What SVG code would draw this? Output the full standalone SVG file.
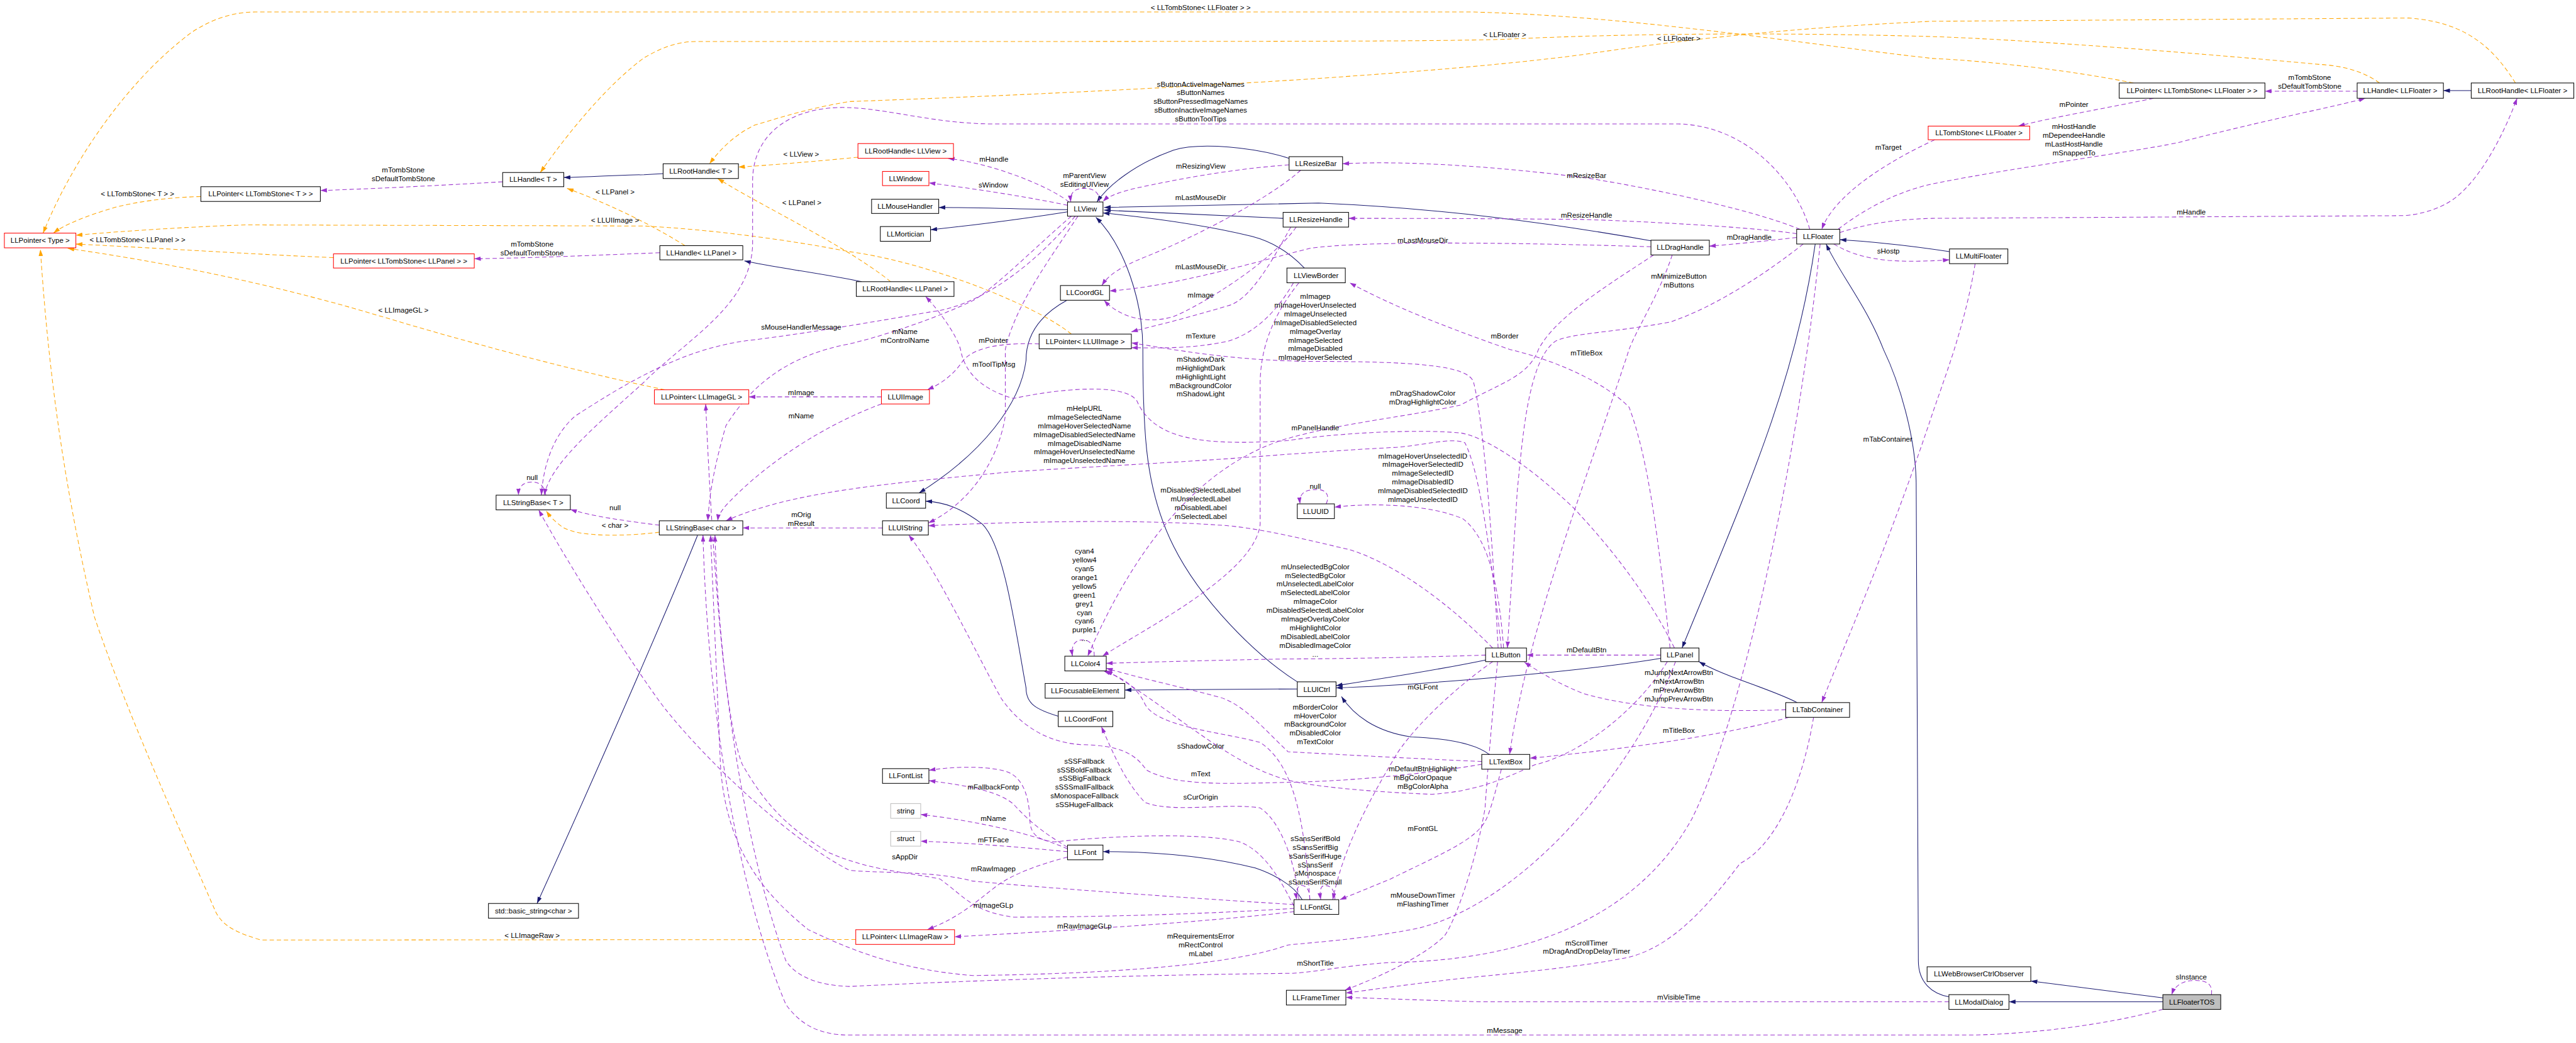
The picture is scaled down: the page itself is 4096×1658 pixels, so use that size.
<svg xmlns="http://www.w3.org/2000/svg" width="4096" height="1658" viewBox="0 0 4096 1658">
<style>
text{font-family:"Liberation Sans",Arial,sans-serif;font-size:13.3px;text-anchor:middle;fill:#000}
.node rect{fill:#fff;stroke:#000;stroke-width:1.2}
.node.r rect{stroke:#ff0000}
.node.g rect{stroke:#bfbfbf}
.node.f rect{fill:#bfbfbf}
.inh{fill:none;stroke:#191970;stroke-width:1.2;marker-end:url(#aN)}
.agg{fill:none;stroke:#9a32cd;stroke-width:1.2;stroke-dasharray:8,5;marker-end:url(#aP)}
.tpl{fill:none;stroke:#ffa500;stroke-width:1.2;stroke-dasharray:8,5;marker-end:url(#aO)}
</style>
<defs>
<marker id="aN" viewBox="0 0 12 8" refX="12" refY="4" markerWidth="12" markerHeight="8" markerUnits="userSpaceOnUse" orient="auto"><path d="M0,0L12,4L0,8z" fill="#191970"/></marker>
<marker id="aP" viewBox="0 0 12 8" refX="12" refY="4" markerWidth="12" markerHeight="8" markerUnits="userSpaceOnUse" orient="auto"><path d="M0,0L12,4L0,8z" fill="#9a32cd"/></marker>
<marker id="aO" viewBox="0 0 12 8" refX="12" refY="4" markerWidth="12" markerHeight="8" markerUnits="userSpaceOnUse" orient="auto"><path d="M0,0L12,4L0,8z" fill="#ffa500"/></marker>
</defs>
<rect width="4096" height="1658" fill="#fff"/>
<g transform="scale(0.8678)">
<g id="edges">
<!-- inheritance -->
<path class="inh" d="M1215,318 L1180,320 C1100,322 1060,325 1033,325"/>
<path class="inh" d="M1579,516 C1500,500 1420,490 1364,478"/>
<path class="inh" d="M1956,384 C1850,383 1800,380 1720,380"/>
<path class="inh" d="M1956,388 C1850,405 1760,415 1705,421"/>
<path class="inh" d="M2362,290 C2300,270 2200,260 2150,275 C2080,300 2030,340 2010,370"/>
<path class="inh" d="M3025,441 C2850,410 2650,382 2416,372 L2023,380"/>
<path class="inh" d="M2351,400 C2200,393 2100,388 2023,385"/>
<path class="inh" d="M2390,491 C2370,470 2340,445 2294,433 C2200,410 2100,398 2021,390"/>
<path class="inh" d="M2377,1249 C2300,1200 2200,1100 2150,1000 C2100,900 2094,800 2094,640 C2094,550 2060,450 2008,398"/>
<path class="inh" d="M1955,550 C1900,580 1880,620 1880,660 C1870,740 1800,830 1684,903"/>
<path class="inh" d="M1939,1312 C1900,1300 1880,1290 1880,1260 C1860,1150 1840,1000 1800,960 C1760,930 1730,920 1696,918"/>
<path class="inh" d="M1278,981 C1230,1100 1100,1400 984,1655"/>
<path class="inh" d="M2377,1262 L2061,1264"/>
<path class="inh" d="M2722,1209 C2620,1230 2520,1245 2448,1256"/>
<path class="inh" d="M3043,1206 C2900,1230 2600,1255 2448,1260"/>
<path class="inh" d="M2729,1382 C2700,1360 2640,1352 2586,1350 C2520,1340 2480,1310 2458,1276"/>
<path class="inh" d="M3326,447 C3290,700 3200,900 3082,1187"/>
<path class="inh" d="M3293,1287 C3240,1260 3160,1240 3113,1212"/>
<path class="inh" d="M3572,461 C3500,450 3420,442 3371,439"/>
<path class="inh" d="M3571,1826 C3540,1820 3515,1800 3515,1760 L3511,885 C3510,800 3480,700 3451,640 C3420,560 3370,500 3346,447"/>
<path class="inh" d="M3963,1835 L3681,1835"/>
<path class="inh" d="M3963,1828 L3721,1797"/>
<path class="inh" d="M2386,1648 C2370,1620 2330,1600 2300,1590 C2200,1565 2100,1560 2021,1560"/>
<path class="inh" d="M4528,166 L4477,166"/>
<!-- template -->
<path class="tpl" d="M3909,152 C3800,130 3650,112 3540,107 C3300,80 3000,30 2700,22 L467,22 C420,22 380,40 350,60 C230,150 130,300 79,427"/>
<path class="tpl" d="M4360,152 C4330,130 4290,120 4250,118 C4000,95 3700,72 3540,67 C3300,60 3000,60 2757,72 C2600,76 2450,76 1278,76 C1230,76 1200,95 1180,106 C1120,150 1050,230 990,316"/>
<path class="tpl" d="M4609,152 C4570,90 4520,40 4413,33 L3540,39 C3300,50 3100,70 2900,100 C2600,140 2000,170 1556,186 C1470,200 1400,225 1383,229 C1340,250 1315,280 1300,300"/>
<path class="tpl" d="M368,360 C300,362 250,370 210,380 C160,395 120,410 98,427"/>
<path class="tpl" d="M611,472 C450,465 300,455 139,447"/>
<path class="tpl" d="M1963,612 C1900,560 1700,480 1556,461 C1450,440 1300,420 1180,414 L452,412 C350,415 200,425 139,431"/>
<path class="tpl" d="M1255,450 C1200,415 1120,375 1039,345"/>
<path class="tpl" d="M1632,516 C1550,450 1400,380 1315,327"/>
<path class="tpl" d="M1572,288 C1500,295 1420,302 1353,306"/>
<path class="tpl" d="M1218,714 C1100,690 900,640 700,580 C500,520 300,480 124,455"/>
<path class="tpl" d="M1568,1721 L478,1722 C440,1710 410,1700 395,1670 C330,1520 230,1300 173,1130 C120,900 90,700 74,457"/>
<path class="tpl" d="M1208,975 C1150,982 1060,985 1030,965 C1010,950 1005,942 1001,936"/>
<!-- aggregation -->
<path class="agg" d="M921,333 C800,340 700,345 587,349"/>
<path class="agg" d="M1209,463 C1100,467 1000,472 869,474"/>
<path class="agg" d="M4319,167 L4150,167"/>
<path class="agg" d="M3946,180 C3850,200 3760,215 3698,231"/>
<path class="agg" d="M3545,256 C3450,300 3360,360 3338,420"/>
<path class="agg" d="M3368,420 C3420,380 3480,350 3540,337 C3700,305 3900,280 3992,261 C4150,220 4280,195 4334,180"/>
<path class="agg" d="M3371,426 C3420,410 3470,402 3540,400 L4406,395 C4460,390 4490,370 4503,359 C4550,320 4590,240 4612,180"/>
<path class="agg" d="M3360,447 C3390,465 3420,473 3460,477 C3500,480 3540,478 3572,476"/>
<path class="agg" d="M3619,483 C3600,600 3560,700 3540,760 C3460,1000 3380,1180 3338,1287"/>
<path class="agg" d="M3298,420 C3200,380 3000,340 2900,325 C2700,300 2550,295 2460,300"/>
<path class="agg" d="M3292,428 C3200,415 3000,405 2900,402 C2700,400 2550,400 2471,400"/>
<path class="agg" d="M3292,435 C3230,442 3180,447 3132,451"/>
<path class="agg" d="M3304,447 C3250,490 3150,560 3060,590 C2950,610 2880,610 2850,625 C2800,660 2790,800 2780,900 L2762,1187"/>
<path class="agg" d="M3064,467 C3040,540 3000,600 2985,640 C2900,900 2800,1150 2766,1382"/>
<path class="agg" d="M3025,452 C2800,445 2500,440 2400,455 C2300,480 2150,525 2033,533"/>
<path class="agg" d="M2375,416 C2330,480 2200,560 2150,580 C2100,595 2050,580 2023,550"/>
<path class="agg" d="M2383,312 C2330,360 2200,430 2100,470 C2050,490 2030,505 2019,523"/>
<path class="agg" d="M2362,302 C2250,310 2150,330 2080,345 C2050,352 2030,360 2021,369"/>
<path class="agg" d="M2365,416 C2330,480 2290,550 2250,560 C2150,590 2100,600 2073,608"/>
<path class="agg" d="M2370,518 C2340,570 2300,610 2250,625 C2180,640 2120,637 2073,637"/>
<path class="agg" d="M2745,1187 C2735,1000 2720,780 2700,700 C2690,670 2600,662 2400,662 C2250,660 2150,640 2073,628"/>
<path class="agg" d="M2380,518 C2330,580 2310,640 2309,700 L2309,960 C2300,1050 2100,1150 2020,1202"/>
<path class="agg" d="M3030,467 C2950,520 2850,580 2819,640 C2800,690 2751,701 2676,742 C2586,762 2458,775 2360,803 C2200,850 2080,1000 1993,1202"/>
<path class="agg" d="M2751,1187 C2730,1000 2710,860 2684,811 C2660,800 2600,818 2548,820 C2450,825 2400,830 2360,832 C2200,845 2083,850 1857,864 C1632,885 1450,900 1330,954"/>
<path class="agg" d="M2735,1187 C2650,1100 2550,1030 2473,1007 C2400,990 2300,965 2234,962 C2100,952 1900,954 1701,963"/>
<path class="agg" d="M2755,1187 C2745,1050 2720,980 2680,950 C2620,925 2520,920 2445,929"/>
<path class="agg" d="M2430,923 C2440,900 2420,895 2410,897 C2390,897 2380,905 2382,923"/>
<path class="agg" d="M2722,1200 C2600,1204 2450,1207 2360,1207 C2200,1210 2100,1213 2027,1215"/>
<path class="agg" d="M2715,1395 C2600,1390 2450,1382 2360,1377 C2320,1340 2280,1290 2234,1277 C2150,1255 2080,1240 2027,1224"/>
<path class="agg" d="M3055,1212 C3000,1300 2900,1380 2812,1401 C2750,1430 2700,1450 2623,1455 C2500,1450 2400,1440 2360,1429 C2250,1400 2150,1300 2027,1228"/>
<path class="agg" d="M2400,1648 C2390,1500 2370,1400 2309,1360 C2234,1340 2121,1332 2098,1290 C2080,1250 2040,1235 2022,1229"/>
<path class="agg" d="M2005,1202 C2005,1180 1995,1172 1984,1172 C1970,1172 1962,1182 1965,1202"/>
<path class="agg" d="M2015,370 C2015,350 2000,345 1987,345 C1970,345 1960,352 1962,370"/>
<path class="agg" d="M1959,370 C1920,340 1820,300 1737,290"/>
<path class="agg" d="M1956,376 C1880,360 1780,345 1702,335"/>
<path class="agg" d="M1970,396 C1900,480 1800,560 1707,571 C1600,590 1450,615 1368,624 C1250,640 1150,700 1054,762 C1010,800 995,860 992,907"/>
<path class="agg" d="M3316,420 C3290,330 3200,230 3075,227 L1820,227 C1700,227 1600,190 1520,198 C1440,205 1380,250 1379,330 L1379,449 C1375,560 1260,620 1180,700 C1080,790 1010,850 997,907"/>
<path class="agg" d="M1000,907 C998,890 988,883 975,883 C960,883 950,890 950,907"/>
<path class="agg" d="M1208,962 C1150,955 1080,945 1045,933"/>
<path class="agg" d="M1963,396 C1900,450 1820,530 1782,551 C1700,590 1600,620 1556,630 C1450,650 1380,700 1330,780 C1310,850 1300,900 1297,954"/>
<path class="agg" d="M1975,396 C1920,480 1860,560 1842,640 L1842,762 C1830,840 1780,920 1701,958"/>
<path class="agg" d="M1904,630 C1850,628 1790,632 1765,660 C1745,690 1720,705 1699,714"/>
<path class="agg" d="M1615,727 L1372,727"/>
<path class="agg" d="M1615,740 C1519,775 1406,844 1330,926 C1320,938 1316,945 1315,954"/>
<path class="agg" d="M1617,967 L1361,967"/>
<path class="agg" d="M3068,1187 C3000,1050 2900,950 2887,934 C2800,850 2720,800 2676,793 C2586,785 2435,795 2360,807 C2196,818 2113,803 2083,734 C2060,700 1933,713 1857,730 C1797,713 1767,681 1760,640 C1752,612 1722,571 1696,543"/>
<path class="agg" d="M3060,1187 C3040,1000 3022,844 2985,746 C2940,700 2850,660 2766,640 C2650,600 2550,560 2473,518"/>
<path class="agg" d="M3043,1200 L2797,1200"/>
<path class="agg" d="M3272,1300 C3150,1305 3000,1300 2900,1270 C2850,1250 2820,1230 2793,1213"/>
<path class="agg" d="M3278,1314 C3150,1350 2950,1375 2803,1389"/>
<path class="agg" d="M3323,1314 C3300,1450 3250,1550 3188,1582 C3113,1682 3050,1740 2977,1755 C2900,1770 2800,1780 2700,1790 C2600,1800 2500,1815 2466,1819"/>
<path class="agg" d="M2744,1212 C2735,1300 2725,1420 2721,1481 C2700,1600 2660,1700 2646,1715 C2600,1760 2500,1800 2464,1814"/>
<path class="agg" d="M3571,1835 L2710,1835 C2600,1832 2500,1828 2466,1827"/>
<path class="agg" d="M3335,447 C3300,800 3200,1300 3100,1500 C3000,1680 2800,1760 2548,1763 C2450,1770 2400,1783 2360,1783 C2000,1787 1700,1800 1556,1807 C1500,1805 1460,1790 1440,1760 C1380,1600 1320,1300 1310,980"/>
<path class="agg" d="M3070,1212 C3000,1400 2800,1650 2600,1700 C2500,1720 2420,1725 2360,1731 C2271,1763 2083,1783 1782,1787 C1632,1775 1541,1731 1481,1703 C1406,1642 1330,1562 1320,1400 L1302,980"/>
<path class="agg" d="M3963,1849 C3850,1880 3700,1896 3600,1896 L1556,1896 C1500,1896 1466,1876 1440,1840 C1380,1700 1300,1400 1288,980"/>
<path class="agg" d="M2715,1400 C2600,1420 2450,1432 2360,1433 C2250,1436 2150,1440 2100,1410 C2080,1380 2050,1365 1980,1364 C1920,1360 1870,1330 1835,1280 C1790,1200 1720,1050 1665,980"/>
<path class="agg" d="M2751,1409 C2740,1450 2730,1490 2721,1505 C2700,1540 2646,1562 2548,1610 C2500,1630 2470,1642 2455,1648"/>
<path class="agg" d="M2735,1212 C2680,1250 2600,1320 2560,1380 C2500,1480 2460,1560 2442,1648"/>
<path class="agg" d="M2446,1648 C2446,1630 2438,1622 2428,1622 C2418,1622 2418,1635 2420,1648"/>
<path class="agg" d="M2400,1648 C2400,1628 2392,1622 2385,1622 C2376,1622 2374,1635 2376,1648"/>
<path class="agg" d="M2380,1648 C2370,1560 2340,1500 2309,1480 C2250,1470 2150,1490 2098,1470 C2060,1430 2040,1380 2018,1331"/>
<path class="agg" d="M2371,1660 C2350,1620 2320,1560 2271,1542 C2200,1525 2050,1530 1933,1542 C1895,1540 1887,1521 1887,1500 C1885,1450 1870,1420 1840,1412 C1800,1402 1740,1405 1702,1411"/>
<path class="agg" d="M1956,1552 C1920,1530 1890,1510 1857,1473 C1830,1450 1780,1440 1702,1430"/>
<path class="agg" d="M1956,1555 C1900,1530 1800,1505 1687,1492"/>
<path class="agg" d="M1956,1560 C1900,1555 1800,1545 1687,1541"/>
<path class="agg" d="M1956,1570 C1900,1585 1860,1600 1830,1620 C1790,1650 1760,1680 1699,1703"/>
<path class="agg" d="M2371,1664 C2200,1675 2000,1680 1857,1680 C1782,1670 1767,1642 1722,1610 C1650,1596 1594,1594 1519,1562 C1450,1520 1406,1481 1360,1400 C1320,1300 1300,900 1293,740"/>
<path class="agg" d="M2371,1670 C2200,1690 1950,1705 1749,1716"/>
<path class="agg" d="M2371,1657 C2100,1640 1900,1625 1782,1614 C1707,1594 1600,1600 1556,1594 C1450,1540 1300,1400 1220,1300 C1180,1250 1050,1050 987,934"/>
<path class="agg" d="M4052,1822 C4055,1800 4040,1796 4022,1796 C4000,1796 3985,1805 3979,1822"/>
</g>
<g id="labels">
<text x="2200" y="18.5">&lt; LLTombStone&lt; LLFloater &gt; &gt;</text>
<text x="2757" y="67.5">&lt; LLFloater &gt;</text>
<text x="3076" y="74.5">&lt; LLFloater &gt;</text>
<text x="2200" y="158.5">sButtonActiveImageNames<tspan x="2200" dy="16">sButtonNames</tspan><tspan x="2200" dy="16">sButtonPressedImageNames</tspan><tspan x="2200" dy="16">sButtonInactiveImageNames</tspan><tspan x="2200" dy="16">sButtonToolTips</tspan></text>
<text x="1468" y="286.5">&lt; LLView &gt;</text>
<text x="1821" y="296.5">mHandle</text>
<text x="1987" y="326.5">mParentView<tspan x="1987" dy="16">sEditingUIView</tspan></text>
<text x="2200" y="308.5">mResizingView</text>
<text x="1820" y="343.5">sWindow</text>
<text x="1469" y="375.5">&lt; LLPanel &gt;</text>
<text x="2200" y="366.5">mLastMouseDir</text>
<text x="2200" y="493.5">mLastMouseDir</text>
<text x="2200" y="544.5">mImage</text>
<text x="1468" y="603.5">sMouseHandlerMessage</text>
<text x="1658" y="611.5">mName<tspan x="1658" dy="16">mControlName</tspan></text>
<text x="1820" y="627.5">mPointer</text>
<text x="2200" y="620.5">mTexture</text>
<text x="739" y="315.5">mTombStone<tspan x="739" dy="16">sDefaultTombStone</tspan></text>
<text x="252" y="359.5">&lt; LLTombStone&lt; T &gt; &gt;</text>
<text x="252" y="443.5">&lt; LLTombStone&lt; LLPanel &gt; &gt;</text>
<text x="1127" y="408.5">&lt; LLUIImage &gt;</text>
<text x="1127" y="355.5">&lt; LLPanel &gt;</text>
<text x="975" y="451.5">mTombStone<tspan x="975" dy="16">sDefaultTombStone</tspan></text>
<text x="739" y="572.5">&lt; LLImageGL &gt;</text>
<text x="2907" y="326.5">mResizeBar</text>
<text x="2907" y="398.5">mResizeHandle</text>
<text x="3205" y="438.5">mDragHandle</text>
<text x="2607" y="444.5">mLastMouseDir</text>
<text x="3460" y="274.5">mTarget</text>
<text x="3460" y="464.5">sHostp</text>
<text x="3076" y="510.5">mMinimizeButton<tspan x="3076" dy="16">mButtons</tspan></text>
<text x="2757" y="620.5">mBorder</text>
<text x="2410" y="547.5">mImagep<tspan x="2410" dy="16">mImageHoverUnselected</tspan><tspan x="2410" dy="16">mImageUnselected</tspan><tspan x="2410" dy="16">mImageDisabledSelected</tspan><tspan x="2410" dy="16">mImageOverlay</tspan><tspan x="2410" dy="16">mImageSelected</tspan><tspan x="2410" dy="16">mImageDisabled</tspan><tspan x="2410" dy="16">mImageHoverSelected</tspan></text>
<text x="4232" y="146.5">mTombStone<tspan x="4232" dy="16">sDefaultTombStone</tspan></text>
<text x="3800" y="195.5">mPointer</text>
<text x="3800" y="236.5">mHostHandle<tspan x="3800" dy="16">mDependeeHandle</tspan><tspan x="3800" dy="16">mLastHostHandle</tspan><tspan x="3800" dy="16">mSnappedTo</tspan></text>
<text x="4015" y="392.5">mHandle</text>
<text x="975" y="879.5">null</text>
<text x="1127" y="934.5">null</text>
<text x="1127" y="966.5">&lt; char &gt;</text>
<text x="1821" y="671.5">mToolTipMsg</text>
<text x="1468" y="723.5">mImage</text>
<text x="1468" y="766.5">mName</text>
<text x="2200" y="662.5">mShadowDark<tspan x="2200" dy="16">mHighlightDark</tspan><tspan x="2200" dy="16">mHighlightLight</tspan><tspan x="2200" dy="16">mBackgroundColor</tspan><tspan x="2200" dy="16">mShadowLight</tspan></text>
<text x="1987" y="752.5">mHelpURL<tspan x="1987" dy="16">mImageSelectedName</tspan><tspan x="1987" dy="16">mImageHoverSelectedName</tspan><tspan x="1987" dy="16">mImageDisabledSelectedName</tspan><tspan x="1987" dy="16">mImageDisabledName</tspan><tspan x="1987" dy="16">mImageHoverUnselectedName</tspan><tspan x="1987" dy="16">mImageUnselectedName</tspan></text>
<text x="1468" y="947.5">mOrig<tspan x="1468" dy="16">mResult</tspan></text>
<text x="2200" y="902.5">mDisabledSelectedLabel<tspan x="2200" dy="16">mUnselectedLabel</tspan><tspan x="2200" dy="16">mDisabledLabel</tspan><tspan x="2200" dy="16">mSelectedLabel</tspan></text>
<text x="1987" y="1014.5">cyan4<tspan x="1987" dy="16">yellow4</tspan><tspan x="1987" dy="16">cyan5</tspan><tspan x="1987" dy="16">orange1</tspan><tspan x="1987" dy="16">yellow5</tspan><tspan x="1987" dy="16">green1</tspan><tspan x="1987" dy="16">grey1</tspan><tspan x="1987" dy="16">cyan</tspan><tspan x="1987" dy="16">cyan6</tspan><tspan x="1987" dy="16">purple1</tspan><tspan x="1987" dy="16">...</tspan></text>
<text x="2907" y="651.5">mTitleBox</text>
<text x="2607" y="724.5">mDragShadowColor<tspan x="2607" dy="16">mDragHighlightColor</tspan></text>
<text x="2410" y="788.5">mPanelHandle</text>
<text x="2410" y="895.5">null</text>
<text x="2607" y="839.5">mImageHoverUnselectedID<tspan x="2607" dy="16">mImageHoverSelectedID</tspan><tspan x="2607" dy="16">mImageSelectedID</tspan><tspan x="2607" dy="16">mImageDisabledID</tspan><tspan x="2607" dy="16">mImageDisabledSelectedID</tspan><tspan x="2607" dy="16">mImageUnselectedID</tspan></text>
<text x="3459" y="808.5">mTabContainer</text>
<text x="2410" y="1042.5">mUnselectedBgColor<tspan x="2410" dy="16">mSelectedBgColor</tspan><tspan x="2410" dy="16">mUnselectedLabelColor</tspan><tspan x="2410" dy="16">mSelectedLabelColor</tspan><tspan x="2410" dy="16">mImageColor</tspan><tspan x="2410" dy="16">mDisabledSelectedLabelColor</tspan><tspan x="2410" dy="16">mImageOverlayColor</tspan><tspan x="2410" dy="16">mHighlightColor</tspan><tspan x="2410" dy="16">mDisabledLabelColor</tspan><tspan x="2410" dy="16">mDisabledImageColor</tspan><tspan x="2410" dy="16">...</tspan></text>
<text x="2907" y="1195.5">mDefaultBtn</text>
<text x="2607" y="1262.5">mGLFont</text>
<text x="3076" y="1236.5">mJumpNextArrowBtn<tspan x="3076" dy="16">mNextArrowBtn</tspan><tspan x="3076" dy="16">mPrevArrowBtn</tspan><tspan x="3076" dy="16">mJumpPrevArrowBtn</tspan></text>
<text x="2200" y="1371.5">sShadowColor</text>
<text x="2200" y="1422.5">mText</text>
<text x="2200" y="1464.5">sCurOrigin</text>
<text x="1987" y="1398.5">sSSFallback<tspan x="1987" dy="16">sSSBoldFallback</tspan><tspan x="1987" dy="16">sSSBigFallback</tspan><tspan x="1987" dy="16">sSSSmallFallback</tspan><tspan x="1987" dy="16">sMonospaceFallback</tspan><tspan x="1987" dy="16">sSSHugeFallback</tspan></text>
<text x="1820" y="1446.5">mFallbackFontp</text>
<text x="1820" y="1503.5">mName</text>
<text x="1820" y="1543.5">mFTFace</text>
<text x="1658" y="1574.5">sAppDir</text>
<text x="1820" y="1595.5">mRawImagep</text>
<text x="1820" y="1662.5">mImageGLp</text>
<text x="1987" y="1700.5">mRawImageGLp</text>
<text x="2200" y="1719.5">mRequirementsError<tspan x="2200" dy="16">mRectControl</tspan><tspan x="2200" dy="16">mLabel</tspan></text>
<text x="975" y="1718.5">&lt; LLImageRaw &gt;</text>
<text x="2410" y="1299.5">mBorderColor<tspan x="2410" dy="16">mHoverColor</tspan><tspan x="2410" dy="16">mBackgroundColor</tspan><tspan x="2410" dy="16">mDisabledColor</tspan><tspan x="2410" dy="16">mTextColor</tspan></text>
<text x="3076" y="1342.5">mTitleBox</text>
<text x="2607" y="1412.5">mDefaultBtnHighlight<tspan x="2607" dy="16">mBgColorOpaque</tspan><tspan x="2607" dy="16">mBgColorAlpha</tspan></text>
<text x="2607" y="1522.5">mFontGL</text>
<text x="2410" y="1540.5">sSansSerifBold<tspan x="2410" dy="16">sSansSerifBig</tspan><tspan x="2410" dy="16">sSansSerifHuge</tspan><tspan x="2410" dy="16">sSansSerif</tspan><tspan x="2410" dy="16">sMonospace</tspan><tspan x="2410" dy="16">sSansSerifSmall</tspan></text>
<text x="2607" y="1644.5">mMouseDownTimer<tspan x="2607" dy="16">mFlashingTimer</tspan></text>
<text x="2907" y="1731.5">mScrollTimer<tspan x="2907" dy="16">mDragAndDropDelayTimer</tspan></text>
<text x="2410" y="1768.5">mShortTitle</text>
<text x="3076" y="1830.5">mVisibleTime</text>
<text x="2757" y="1892.5">mMessage</text>
<text x="4015" y="1794.5">sInstance</text>
</g>
<g id="n_LLPointer_Type" class="node r"><rect x="8" y="427" width="131" height="27"/><text x="73.5" y="445">LLPointer&lt; Type &gt;</text></g>
<g id="n_LLPointer_TS_T" class="node"><rect x="368" y="342" width="219" height="27"/><text x="477.5" y="360">LLPointer&lt; LLTombStone&lt; T &gt; &gt;</text></g>
<g id="n_LLHandle_T" class="node"><rect x="921" y="316" width="112" height="26"/><text x="977" y="333.5">LLHandle&lt; T &gt;</text></g>
<g id="n_LLPointer_TS_LLPanel" class="node r"><rect x="611" y="465" width="258" height="26"/><text x="740" y="482.5">LLPointer&lt; LLTombStone&lt; LLPanel &gt; &gt;</text></g>
<g id="n_LLRootHandle_T" class="node"><rect x="1215" y="300" width="138" height="27"/><text x="1284" y="318">LLRootHandle&lt; T &gt;</text></g>
<g id="n_LLRootHandle_LLView" class="node r"><rect x="1572" y="263" width="175" height="27"/><text x="1659.5" y="281">LLRootHandle&lt; LLView &gt;</text></g>
<g id="n_LLWindow" class="node r"><rect x="1617" y="314" width="85" height="26"/><text x="1659.5" y="331.5">LLWindow</text></g>
<g id="n_LLMouseHandler" class="node"><rect x="1597" y="365" width="123" height="26"/><text x="1658.5" y="382.5">LLMouseHandler</text></g>
<g id="n_LLMortician" class="node"><rect x="1613" y="415" width="92" height="27"/><text x="1659" y="433">LLMortician</text></g>
<g id="n_LLView" class="node"><rect x="1956" y="370" width="65" height="26"/><text x="1988.5" y="387.5">LLView</text></g>
<g id="n_LLHandle_LLPanel" class="node"><rect x="1209" y="450" width="152" height="26"/><text x="1285" y="467.5">LLHandle&lt; LLPanel &gt;</text></g>
<g id="n_LLRootHandle_LLPanel" class="node"><rect x="1569" y="516" width="179" height="27"/><text x="1658.5" y="534">LLRootHandle&lt; LLPanel &gt;</text></g>
<g id="n_LLCoordGL" class="node"><rect x="1943" y="523" width="90" height="27"/><text x="1988" y="541">LLCoordGL</text></g>
<g id="n_LLPointer_LLUIImage" class="node"><rect x="1904" y="612" width="169" height="27"/><text x="1988.5" y="630">LLPointer&lt; LLUIImage &gt;</text></g>
<g id="n_LLResizeBar" class="node"><rect x="2362" y="287" width="98" height="25"/><text x="2411" y="304">LLResizeBar</text></g>
<g id="n_LLResizeHandle" class="node"><rect x="2351" y="389" width="120" height="27"/><text x="2411" y="407">LLResizeHandle</text></g>
<g id="n_LLViewBorder" class="node"><rect x="2358" y="491" width="107" height="27"/><text x="2411.5" y="509">LLViewBorder</text></g>
<g id="n_LLDragHandle" class="node"><rect x="3025" y="440" width="107" height="27"/><text x="3078.5" y="458">LLDragHandle</text></g>
<g id="n_LLFloater" class="node"><rect x="3292" y="420" width="79" height="27"/><text x="3331.5" y="438">LLFloater</text></g>
<g id="n_LLTombStone_LLFloater" class="node r"><rect x="3533" y="231" width="186" height="25"/><text x="3626" y="248">LLTombStone&lt; LLFloater &gt;</text></g>
<g id="n_LLPointer_TS_LLFloater" class="node"><rect x="3883" y="152" width="267" height="28"/><text x="4016.5" y="170.5">LLPointer&lt; LLTombStone&lt; LLFloater &gt; &gt;</text></g>
<g id="n_LLHandle_LLFloater" class="node"><rect x="4319" y="152" width="158" height="28"/><text x="4398" y="170.5">LLHandle&lt; LLFloater &gt;</text></g>
<g id="n_LLRootHandle_LLFloater" class="node"><rect x="4528" y="152" width="188" height="28"/><text x="4622" y="170.5">LLRootHandle&lt; LLFloater &gt;</text></g>
<g id="n_LLMultiFloater" class="node"><rect x="3572" y="456" width="107" height="27"/><text x="3625.5" y="474">LLMultiFloater</text></g>
<g id="n_LLStringBase_T" class="node"><rect x="909" y="907" width="136" height="27"/><text x="977" y="925">LLStringBase&lt; T &gt;</text></g>
<g id="n_LLPointer_LLImageGL" class="node r"><rect x="1199" y="714" width="173" height="26"/><text x="1285.5" y="731.5">LLPointer&lt; LLImageGL &gt;</text></g>
<g id="n_LLUIImage" class="node r"><rect x="1615" y="714" width="88" height="26"/><text x="1659" y="731.5">LLUIImage</text></g>
<g id="n_LLCoord" class="node"><rect x="1624" y="903" width="72" height="28"/><text x="1660" y="921.5">LLCoord</text></g>
<g id="n_LLStringBase_char" class="node"><rect x="1208" y="954" width="153" height="26"/><text x="1284.5" y="971.5">LLStringBase&lt; char &gt;</text></g>
<g id="n_LLUIString" class="node"><rect x="1617" y="954" width="84" height="26"/><text x="1659" y="971.5">LLUIString</text></g>
<g id="n_LLColor4" class="node"><rect x="1951" y="1202" width="76" height="27"/><text x="1989" y="1220">LLColor4</text></g>
<g id="n_LLFocusableElement" class="node"><rect x="1915" y="1252" width="146" height="27"/><text x="1988" y="1270">LLFocusableElement</text></g>
<g id="n_LLUUID" class="node"><rect x="2377" y="923" width="68" height="27"/><text x="2411" y="941">LLUUID</text></g>
<g id="n_LLButton" class="node"><rect x="2722" y="1187" width="75" height="25"/><text x="2759.5" y="1204">LLButton</text></g>
<g id="n_LLPanel" class="node"><rect x="3043" y="1187" width="70" height="25"/><text x="3078" y="1204">LLPanel</text></g>
<g id="n_LLUICtrl" class="node"><rect x="2377" y="1249" width="71" height="27"/><text x="2412.5" y="1267">LLUICtrl</text></g>
<g id="n_LLCoordFont" class="node"><rect x="1939" y="1303" width="100" height="28"/><text x="1989" y="1321.5">LLCoordFont</text></g>
<g id="n_LLFontList" class="node"><rect x="1617" y="1408" width="85" height="27"/><text x="1659.5" y="1426">LLFontList</text></g>
<g id="n_string" class="node g"><rect x="1632" y="1472" width="55" height="27"/><text x="1659.5" y="1490">string</text></g>
<g id="n_struct" class="node g"><rect x="1632" y="1523" width="55" height="27"/><text x="1659.5" y="1541">struct</text></g>
<g id="n_LLFont" class="node"><rect x="1956" y="1548" width="65" height="27"/><text x="1988.5" y="1566">LLFont</text></g>
<g id="n_LLPointer_LLImageRaw" class="node r"><rect x="1568" y="1703" width="181" height="27"/><text x="1658.5" y="1721">LLPointer&lt; LLImageRaw &gt;</text></g>
<g id="n_std_basic_string" class="node"><rect x="895" y="1655" width="165" height="27"/><text x="977.5" y="1673">std::basic_string&lt;char &gt;</text></g>
<g id="n_LLTextBox" class="node"><rect x="2715" y="1382" width="88" height="27"/><text x="2759" y="1400">LLTextBox</text></g>
<g id="n_LLTabContainer" class="node"><rect x="3272" y="1287" width="117" height="27"/><text x="3330.5" y="1305">LLTabContainer</text></g>
<g id="n_LLFontGL" class="node"><rect x="2371" y="1648" width="82" height="27"/><text x="2412" y="1666">LLFontGL</text></g>
<g id="n_LLFrameTimer" class="node"><rect x="2357" y="1814" width="109" height="27"/><text x="2411.5" y="1832">LLFrameTimer</text></g>
<g id="n_LLWebBrowserCtrlObserver" class="node"><rect x="3531" y="1771" width="190" height="27"/><text x="3626" y="1789">LLWebBrowserCtrlObserver</text></g>
<g id="n_LLModalDialog" class="node"><rect x="3571" y="1822" width="110" height="27"/><text x="3626" y="1840">LLModalDialog</text></g>
<g id="n_LLFloaterTOS" class="node f"><rect x="3963" y="1822" width="106" height="27"/><text x="4016" y="1840">LLFloaterTOS</text></g>
</g>
</svg>
